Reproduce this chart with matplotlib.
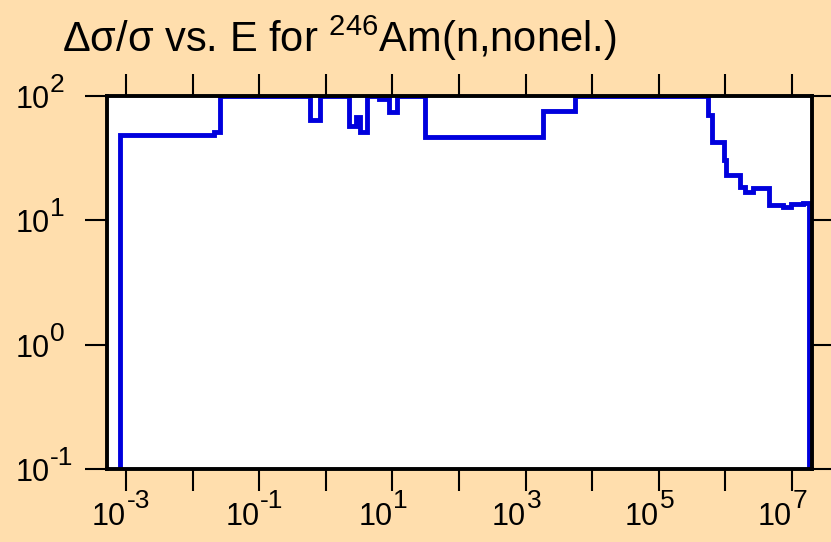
import matplotlib
matplotlib.use("Agg")
import matplotlib.pyplot as plt
import matplotlib.transforms as mtransforms
from matplotlib.ticker import LogLocator, NullLocator, NullFormatter
import numpy as np

plt.rcParams['font.family'] = ['Liberation Sans', 'DejaVu Sans']
plt.rcParams['mathtext.fontset'] = 'custom'
plt.rcParams['mathtext.rm'] = 'Liberation Sans'
plt.rcParams['mathtext.it'] = 'Liberation Sans:italic'
plt.rcParams['mathtext.bf'] = 'Liberation Sans:bold'

# Bin edges (energy, eV) and relative uncertainty (%) per bin
energy_edges = [8.0e-4, 0.0205, 0.026, 0.58, 0.82, 2.24, 2.86, 3.2, 4.2, 6.3,
                8.05, 8.8, 11.6, 30.9, 1837, 5480, 5.47e5, 6.37e5, 9.4e5,
                1.03e6, 1.67e6, 1.94e6, 2.56e6, 4.49e6, 7.28e6, 9.7e6,
                1.45e7, 1.83e7]
rel_unc = [48.5, 51.6, 100, 64, 100, 57.4, 68, 51.6, 100, 95, 100, 74.8,
           100, 47, 76, 100, 70.3, 42.9, 30.6, 23.1, 18.6, 17, 18.1, 13.3,
           12.7, 13.5, 13.9]

x_label_exponents = [-3, -1, 1, 3, 5, 7]
y_label_exponents = [-1, 0, 1, 2]

title = "Δσ/σ vs. E for $^{246}$Am(n,nonel.)"

bg = '#FFDEAD'
W, H = 831, 542
fig = plt.figure(figsize=(W/100, H/100), dpi=100, facecolor=bg)
ax = fig.add_axes([107/W, 1-469/H, (812-107)/W, (469-96)/H])
ax.set_facecolor('white')

ax.stairs(rel_unc, energy_edges, baseline=1e-3, color='#0000DD', lw=3.5,
          fill=False)

ax.set_xscale('log')
ax.set_yscale('log')
ax.set_xlim(5.15e-4, 2.0e7)
ax.set_ylim(0.1, 100)

ax.xaxis.set_major_locator(LogLocator(base=10, numticks=30))
ax.xaxis.set_minor_locator(NullLocator())
ax.yaxis.set_major_locator(LogLocator(base=10, numticks=30))
ax.yaxis.set_minor_locator(NullLocator())
ax.xaxis.set_major_formatter(NullFormatter())
ax.yaxis.set_major_formatter(NullFormatter())

ax.tick_params(axis='both', which='major', direction='out', length=15.5,
               width=1.5, colors='black',
               top=True, right=True, labeltop=False, labelright=False,
               labelbottom=False, labelleft=False)

for s in ax.spines.values():
    s.set_linewidth(2.8)
    s.set_color('black')

base_fs = 22
exp_fs = 19

def exp_str(e):
    return ('-%d' % (-e)) if e < 0 else ('%d' % e)

# x tick labels: "10" ends at the tick, exponent starts at the tick
xtr = ax.get_xaxis_transform()
for e in x_label_exponents:
    v = 10.0 ** e
    t1 = mtransforms.offset_copy(xtr, fig=fig, x=0, y=-56, units='dots')
    t2 = mtransforms.offset_copy(xtr, fig=fig, x=1, y=-39, units='dots')
    ax.text(v, 0, '10', transform=t1, ha='right', va='baseline',
            fontsize=base_fs, clip_on=False)
    ax.text(v, 0, exp_str(e), transform=t2, ha='left', va='baseline',
            fontsize=exp_fs, clip_on=False)

# y tick labels: left aligned near the figure's left edge
ytr = mtransforms.blended_transform_factory(fig.transFigure, ax.transData)
for e in y_label_exponents:
    v = 10.0 ** e
    t1 = mtransforms.offset_copy(ytr, fig=fig, x=0, y=-12, units='dots')
    t2 = mtransforms.offset_copy(ytr, fig=fig, x=0, y=4, units='dots')
    fig.text(16/W, v, '10', transform=t1, ha='left', va='baseline',
             fontsize=base_fs)
    fig.text(50/W, v, exp_str(e), transform=t2, ha='left', va='baseline',
             fontsize=exp_fs)

fig.text(62/W, 1-52/H, title, fontsize=30, ha='left', va='baseline')

fig.savefig('out.png', dpi=100, facecolor=bg)
